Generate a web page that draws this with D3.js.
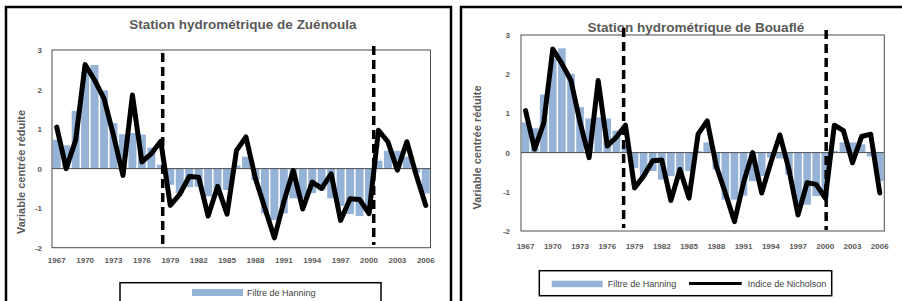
<!DOCTYPE html>
<html>
<head>
<meta charset="utf-8">
<script src="https://cdn.jsdelivr.net/npm/d3@7.9.0/dist/d3.min.js"></script>
<style>
  body { margin: 0; background: #fff; }
  svg { display: block; font-family: "Liberation Sans", Arial, sans-serif; }
</style>
</head>
<body>
<svg id="chart" width="902" height="301"></svg>
<script>
const years = [1967, 1968, 1969, 1970, 1971, 1972, 1973, 1974, 1975, 1976,
  1977, 1978, 1979, 1980, 1981, 1982, 1983, 1984, 1985, 1986,
  1987, 1988, 1989, 1990, 1991, 1992, 1993, 1994, 1995, 1996,
  1997, 1998, 1999, 2000, 2001, 2002, 2003, 2004, 2005, 2006];
const tickYears = [1967, 1970, 1973, 1976, 1979, 1982, 1985, 1988, 1991, 1994, 1997, 2000, 2003, 2006];
const yTicks = [-2, -1, 0, 1, 2, 3];

// Zuénoula
const zuenoulaHanning = [0.73, 0.59, 1.46, 2.45, 2.62, 1.98, 1.15, 0.87, 0.9, 0.86,
  0.53, 0.1, -0.41, -0.62, -0.47, -0.46, -0.7, -0.54, -0.54, 0.08,
  0.3, -0.29, -1.13, -1.3, -1.13, -0.75, -0.75, -0.62, -0.55, -0.75,
  -0.95, -1.15, -1.2, -1.05, 0.2, 0.45, 0.45, 0.3, -0.1, -0.63];
const zuenoulaNicholson = [1.05, 0.0, 0.72, 2.63, 2.24, 1.77, 0.84, -0.17, 1.86, 0.17,
  0.38, 0.69, -0.93, -0.65, -0.2, -0.22, -1.2, -0.45, -1.15, 0.46,
  0.8, -0.25, -1.0, -1.75, -0.84, -0.05, -1.02, -0.34, -0.5, -0.13,
  -1.31, -0.76, -0.78, -1.14, 0.97, 0.68, -0.04, 0.68, -0.17, -0.93];
const zuenoulaBreaks = [1978.2, 2000.5];

// Bouaflé
const bouafleHanning = [0.77, 0.62, 1.48, 2.4, 2.66, 2.01, 1.16, 0.87, 0.9, 0.87,
  0.56, 0.2, -0.39, -0.6, -0.47, -0.69, -0.6, -0.5, -0.47, 0.04,
  0.26, -0.43, -1.2, -1.2, -1.1, -0.73, -0.6, -0.13, -0.15, -0.56,
  -1.29, -1.33, -1.11, -1.16, 0.04, 0.26, 0.26, 0.21, -0.1, -0.73];
const bouafleNicholson = [1.07, 0.09, 0.75, 2.64, 2.27, 1.84, 0.77, -0.13, 1.84, 0.17,
  0.39, 0.7, -0.9, -0.6, -0.21, -0.19, -1.22, -0.43, -1.16, 0.47,
  0.81, -0.34, -1.03, -1.76, -0.77, 0.0, -1.03, -0.26, 0.45, -0.43,
  -1.59, -0.77, -0.81, -1.16, 0.7, 0.56, -0.26, 0.41, 0.47, -1.03];
const bouafleBreaks = [1977.8, 2000.1];

const barColor = '#95b3d7';
const textColor = '#595959';

const svg = d3.select('#chart');

function drawPanel(title, hanning, nicholson, breaks, L) {
  const g = svg.append('g');

  // outer frame
  g.append('rect')
    .attr('x', L.frame[0]).attr('y', L.frame[1])
    .attr('width', L.frame[2]).attr('height', L.frame[3])
    .attr('fill', '#fff').attr('stroke', '#000').attr('stroke-width', 2.5);

  g.append('text')
    .attr('x', L.titleX).attr('y', L.titleY)
    .attr('text-anchor', 'middle')
    .attr('font-size', 13.5).attr('font-weight', 'bold')
    .attr('fill', textColor)
    .text(title);

  const x = d3.scaleBand().domain(years).range([L.x0, L.x1])
    .paddingInner(0.16).paddingOuter(0.08);
  const y = d3.scaleLinear().domain([-2, 3]).range([L.yBottom, L.yTop]);
  const cx = d => x(d) + x.bandwidth() / 2;
  const yearX = d3.scaleLinear().domain([years[0], years[years.length - 1]])
    .range([cx(years[0]), cx(years[years.length - 1])]);

  // bars
  g.append('g').selectAll('rect')
    .data(years.map((yr, i) => ({ yr, v: hanning[i] })))
    .join('rect')
    .attr('x', d => x(d.yr))
    .attr('width', x.bandwidth())
    .attr('y', d => y(Math.max(0, d.v)))
    .attr('height', d => Math.abs(y(d.v) - y(0)))
    .attr('fill', barColor);

  // plot frame + zero line
  g.append('rect')
    .attr('x', L.x0).attr('y', L.yTop)
    .attr('width', L.x1 - L.x0).attr('height', L.yBottom - L.yTop)
    .attr('fill', 'none').attr('stroke', '#4d4d4d').attr('stroke-width', 1);
  g.append('line')
    .attr('x1', L.x0).attr('x2', L.x1)
    .attr('y1', y(0)).attr('y2', y(0))
    .attr('stroke', '#4d4d4d').attr('stroke-width', 1);

  // Nicholson line
  const line = d3.line().x((d, i) => cx(years[i])).y(d => y(d));
  g.append('path')
    .attr('d', line(nicholson))
    .attr('fill', 'none')
    .attr('stroke', '#000')
    .attr('stroke-width', 5)
    .attr('stroke-linejoin', 'round')
    .attr('stroke-linecap', 'round');

  // rupture lines
  breaks.forEach((b, i) => {
    g.append('line')
      .attr('x1', yearX(b)).attr('x2', yearX(b))
      .attr('y1', L.breakTop[i]).attr('y2', L.breakBottom[i])
      .attr('stroke', '#000').attr('stroke-width', 3.5)
      .attr('stroke-dasharray', '9,5');
  });

  // axes
  const yAxis = g.append('g')
    .attr('transform', `translate(${L.x0},0)`)
    .call(d3.axisLeft(y).tickValues(yTicks).tickSize(0).tickPadding(L.yPad).tickFormat(d => String(d)));
  yAxis.select('.domain').remove();
  yAxis.selectAll('text')
    .attr('font-size', 8).attr('font-weight', 'bold')
    .attr('font-family', '"Liberation Sans", Arial, sans-serif')
    .attr('fill', textColor);

  const xAxis = g.append('g')
    .attr('transform', `translate(0,${L.yBottom})`)
    .call(d3.axisBottom(x).tickValues(tickYears).tickSize(0).tickPadding(L.xPad));
  xAxis.select('.domain').remove();
  xAxis.selectAll('text')
    .attr('font-size', 8).attr('font-weight', 'bold')
    .attr('font-family', '"Liberation Sans", Arial, sans-serif')
    .attr('fill', textColor);

  g.append('text')
    .attr('transform', `translate(${L.yTitleX},${L.yTitleY}) rotate(-90)`)
    .attr('text-anchor', 'middle')
    .attr('font-size', 11).attr('font-weight', 'bold')
    .attr('fill', textColor)
    .text('Variable centrée réduite');

  // legend
  const lg = g.append('g');
  lg.append('rect')
    .attr('x', L.legend[0]).attr('y', L.legend[1])
    .attr('width', L.legend[2]).attr('height', L.legend[3])
    .attr('fill', '#fff').attr('stroke', '#000').attr('stroke-width', 1.5);
  lg.append('rect')
    .attr('x', L.sw1[0]).attr('y', L.sw1[1])
    .attr('width', L.sw1[2]).attr('height', L.sw1[3])
    .attr('fill', barColor);
  lg.append('text')
    .attr('x', L.t1[0]).attr('y', L.t1[1])
    .attr('font-size', 9).attr('fill', '#404040')
    .text('Filtre de Hanning');
  // second entry only when it fits in the visible window
  if (L.sw2) {
    lg.append('line')
      .attr('x1', L.sw2[0]).attr('x2', L.sw2[1])
      .attr('y1', L.sw2[2]).attr('y2', L.sw2[2])
      .attr('stroke', '#000').attr('stroke-width', 3);
    lg.append('text')
      .attr('x', L.t2[0]).attr('y', L.t2[1])
      .attr('font-size', 9).attr('fill', '#404040')
      .text('Indice de Nicholson');
  }
}

drawPanel('Station hydrométrique de Zuénoula', zuenoulaHanning, zuenoulaNicholson, zuenoulaBreaks, {
  frame: [6, 7, 445, 330],
  titleX: 243, titleY: 29,
  x0: 52, x1: 430.5, yTop: 50, yBottom: 247.7,
  breakTop: [53, 46], breakBottom: [246, 245],
  yPad: 10, xPad: 9.6,
  yTitleX: 25, yTitleY: 172,
  legend: [120, 282.7, 261, 60],
  sw1: [192, 289, 51, 7], t1: [247, 296]
});

drawPanel('Station hydrométrique de Bouaflé', bouafleHanning, bouafleNicholson, bouafleBreaks, {
  frame: [461, 7, 460, 330],
  titleX: 696, titleY: 32,
  x0: 521, x1: 884.3, yTop: 35, yBottom: 231,
  breakTop: [28, 30], breakBottom: [228, 230],
  yPad: 11, xPad: 12.3,
  yTitleX: 481, yTitleY: 147.5,
  legend: [539.3, 270.7, 292.4, 25],
  sw1: [551.7, 280.7, 51, 6.5], t1: [607.7, 287],
  sw2: [689, 741.7, 283.5], t2: [747.7, 287]
});
</script>
</body>
</html>
